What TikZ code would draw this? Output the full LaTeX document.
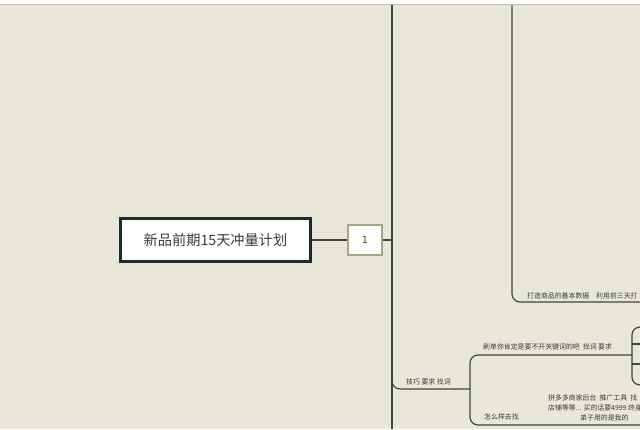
\documentclass[tikz,border=0pt]{standalone}
\usepackage{fontspec}
\newfontfamily\cjk{Noto Sans CJK SC}
\usepackage{xcolor}
\usetikzlibrary{positioning}
\definecolor{bgcol}{HTML}{E9E7DA}
\definecolor{branchcol}{HTML}{3B4840}
\definecolor{rootcol}{HTML}{1C2C28}
\definecolor{numcol}{HTML}{A9A58A}
\definecolor{txtcol}{HTML}{3A3A3A}
\tikzset{
	rootbox/.style={draw=rootcol,line width=3pt,fill=white,minimum width=190pt,minimum height=43pt,inner sep=0pt,font=\cjk\fontsize{14.2}{14}\selectfont,text=txtcol},
	numbox/.style={draw=numcol,line width=2pt,fill=white,minimum width=34pt,minimum height=30pt,inner sep=0pt,font=\cjk\fontsize{10}{10}\selectfont,text=txtcol},
	twig/.style={draw=branchcol,line width=1.2pt,rounded corners=8pt},
	note/.style={font=\cjk\fontsize{6.9}{6.9}\selectfont,text=txtcol,inner sep=0pt,anchor=west},
}
\begin{document}
\begin{tikzpicture}[x=1pt,y=-1pt]
		\clip (0,0) rectangle (640,429);
		\fill[bgcol] (0,0) rectangle (640,429);
		\fill[white] (0,0) rectangle (640,4);
		\draw[gray!50,line width=0.8pt] (0,4.5) -- (640,4.5);
		% trunk lines
		\coordinate (trunk) at (392,5);
		\coordinate (trunkB) at (512,5);
		\draw[twig] (trunk) -- (392,429);
		\draw[twig] (trunkB) -- (512,302) -- (640,302);
		\draw[twig] (392,376) -- (392,389) -- (470,389);
		\draw[twig] (632,355) -- (470,355) -- (470,425) -- (640,425);
		\draw[twig] (640,327) -- (632,327) -- (632,385) -- (640,385);
		\draw[twig] (632,344) -- (640,344);
		\draw[twig] (632,364) -- (640,364);
		% root and number
		\node[rootbox] (root) at (215.5,240) {新品前期15天冲量计划};
		\node[numbox,right=35pt of root] (num) {1};
		\draw[twig] (root) -- (num);
		\draw[twig] (num) -- (num -| trunk);
		% notes
		\node[note] (basedata) at (527,296) {打造商品的基本数据\quad 利用前三天打};
		\node[note] (shuadan) at (483,347) {刷单你肯定是要不开关键词的吧\ \ 找词 要求};
		\node[note] (jiqiao) at (406,382) {技巧 要求 找词};
		\node[note] (pddA) at (548,398) {拼多多商家后台\ \ 推广工具\ \ 找};
		\node[note] (pddB) at (548,408) {店铺等等... 买的话要4999 终身};
		\node[note] (pddC) at (580,418) {弟子用的是我的};
		\node[note] (zenme) at (484,417) {怎么样去找};
	\end{tikzpicture}
\end{document}
